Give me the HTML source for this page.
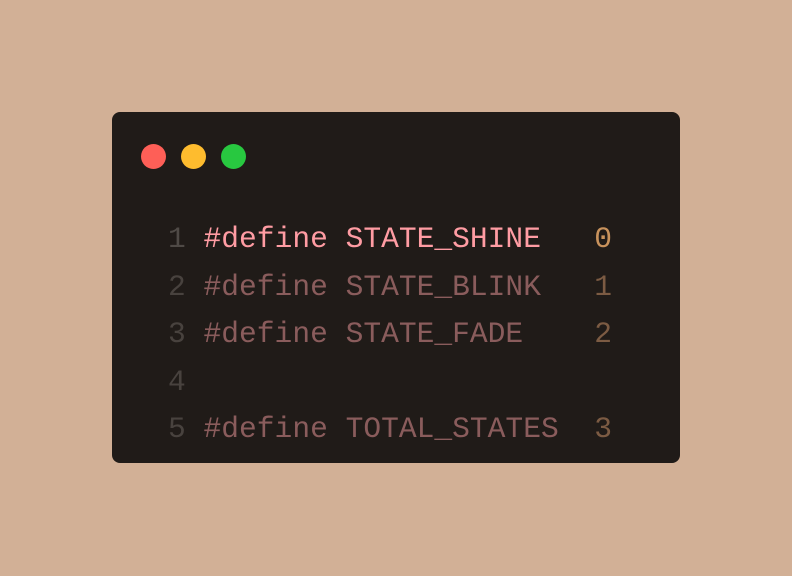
<!DOCTYPE html>
<html><head><style>
html,body{margin:0;padding:0;width:792px;height:576px;background:#d2b096;overflow:hidden}
.card{position:absolute;left:112px;top:112px;width:568px;height:351px;background:#201b18;border-radius:8px}
.dot{position:absolute;top:144px;width:25px;height:25px;border-radius:50%}
pre{position:absolute;left:168px;top:216px;margin:0;font-family:"Liberation Mono",monospace;font-size:29.6px;line-height:47.5px;color:#8a5c5c}
.ln{color:#48423e}.l1{color:#4f4a46}.hi{color:#ff9ca3}.n0{color:#c8925c}.n{color:#7c5b43}
</style></head><body>
<div class="card"></div>
<div class="dot" style="left:141px;background:#fe5f57"></div>
<div class="dot" style="left:181px;background:#febc2e"></div>
<div class="dot" style="left:221px;background:#28c840"></div>
<pre><span class="l1">1</span> <span class="hi">#define STATE_SHINE</span>   <span class="n0">0</span>
<span class="ln">2</span> #define STATE_BLINK   <span class="n">1</span>
<span class="ln">3</span> #define STATE_FADE    <span class="n">2</span>
<span class="ln">4</span>
<span class="ln">5</span> #define TOTAL_STATES  <span class="n">3</span></pre>
</body></html>
